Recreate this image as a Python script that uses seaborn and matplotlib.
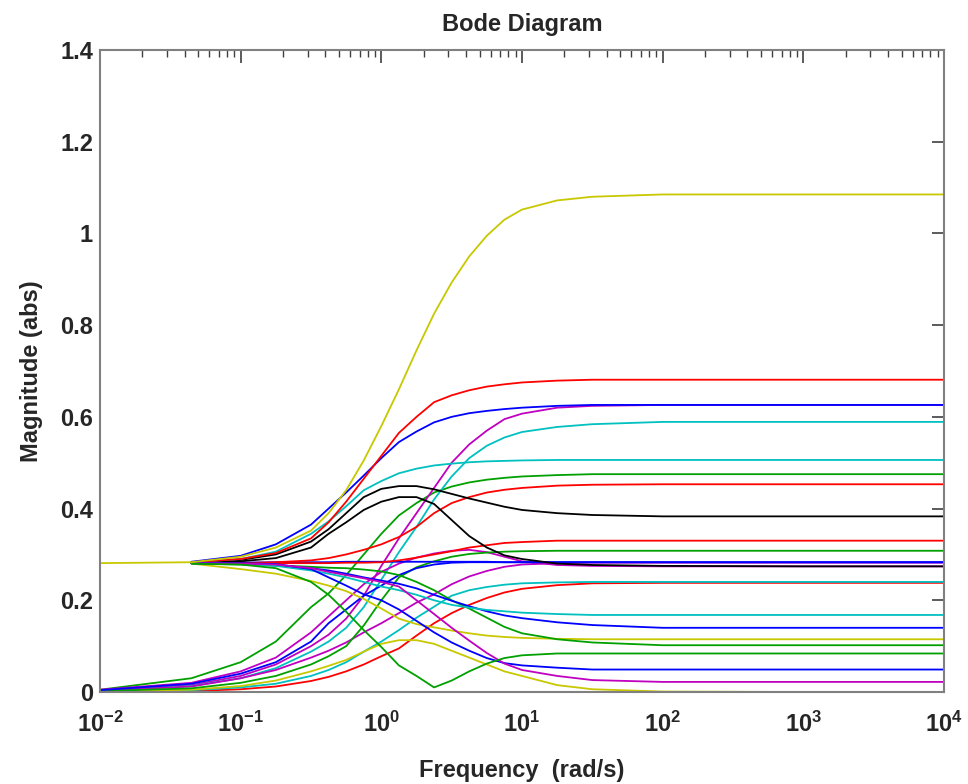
import numpy as np
import pandas as pd
import matplotlib
matplotlib.use("Agg")
import matplotlib.pyplot as plt
from matplotlib import font_manager
from matplotlib.ticker import FixedLocator, FixedFormatter, LogLocator, NullFormatter
import seaborn as sns

nan = np.nan

# frequency grid (exponent of 10, rad/s)
log_freq = [-2, -1.35, -1, -0.75, -0.5, -0.375, -0.25, -0.125, 0, 0.125, 0.25, 0.375,
            0.5, 0.625, 0.75, 0.875, 1, 1.25, 1.5, 2, 3, 4]

# curves that start at 0.28
yellow_big = [.281, .283, .295, .315, .352, .39, .44, .505, .58, .66, .745, .825, .893, .95, .995, 1.03, 1.052, 1.072, 1.08, 1.085, 1.085, 1.085]
red_a = [nan, .283, .29, .303, .335, .37, .415, .465, .515, .565, .6, .632, .647, .658, .666, .671, .675, .679, .681, .681, .681, .681]
blue_a = [nan, .284, .297, .322, .365, .4, .435, .472, .51, .545, .568, .588, .6, .608, .613, .617, .62, .624, .626, .626, .626, .626]
cyan_a = [nan, .283, .29, .306, .345, .372, .405, .44, .46, .477, .487, .494, .498, .501, .503, .504, .505, .506, .506, .506, .506, .506]
black_a = [nan, .282, .288, .3, .328, .355, .39, .425, .443, .449, .449, .442, .432, .422, .413, .404, .397, .39, .386, .383, .383, .383]
black_b = [nan, .282, .285, .292, .315, .345, .37, .397, .415, .425, .425, .41, .375, .34, .315, .298, .29, .28, .277, .275, .274, .274]
red_b = [nan, .281, .281, .283, .287, .292, .3, .31, .322, .338, .36, .39, .412, .425, .435, .441, .445, .45, .452, .453, .453, .453]
red_c = [nan, .281, .281, .281, .281, .281, .282, .282, .283, .287, .293, .3, .307, .315, .32, .325, .327, .33, .33, .33, .33, .33]
blue_flat = [nan, .282, .282, .283, .283, .283, .284, .284, .284, .284, .284, .284, .284, .284, .284, .283, .283, .283, .283, .283, .283, .283]
yellow_dn = [nan, .28, .268, .258, .242, .232, .22, .203, .182, .16, .148, .141, .134, .128, .123, .12, .118, .116, .115, .115, .115, .115]
green_dn = [nan, .28, .278, .276, .273, .271, .27, .267, .263, .255, .24, .222, .2, .182, .162, .142, .128, .115, .108, .102, .102, .102]
blue_dn = [nan, .281, .279, .276, .27, .265, .258, .25, .243, .236, .226, .212, .199, .187, .176, .167, .161, .152, .146, .14, .14, .14]
cyan_dn = [nan, .281, .279, .275, .265, .258, .25, .24, .23, .222, .212, .2, .19, .184, .179, .176, .173, .17, .168, .168, .168, .168]
blue_dn2 = [nan, .282, .281, .279, .268, .25, .232, .213, .2, .18, .155, .13, .108, .09, .074, .063, .058, .053, .049, .049, .049, .049]
magenta_dn = [nan, .281, .28, .278, .27, .262, .255, .248, .24, .23, .2, .17, .14, .112, .085, .062, .048, .035, .026, .022, .022, .022]
green_v = [nan, .28, .278, .27, .24, .212, .175, .135, .098, .058, .035, .01, .025, .045, .062, .074, .08, .084, .084, .084, .084, .084]

# curves that start near 0
green_up = [.005, .03, .065, .11, .185, .215, .255, .3, .345, .385, .412, .435, .448, .457, .463, .467, .47, .473, .475, .475, .475, .475]
magenta_up = [.003, .015, .035, .06, .1, .125, .16, .21, .275, .335, .39, .445, .5, .54, .57, .595, .607, .62, .624, .626, .626, .626]
cyan_up = [.003, .013, .03, .052, .088, .11, .14, .185, .245, .305, .36, .42, .47, .51, .537, .555, .567, .578, .584, .589, .589, .589]
red_up = [0, .002, .006, .012, .024, .033, .045, .06, .078, .095, .123, .15, .172, .19, .205, .217, .225, .233, .237, .238, .238, .238]
cyan_up2 = [.001, .004, .01, .018, .035, .048, .065, .088, .11, .135, .162, .186, .21, .222, .229, .234, .237, .239, .24, .24, .24, .24]
yellow_pk = [.001, .005, .013, .025, .045, .057, .07, .088, .105, .113, .113, .105, .09, .075, .06, .045, .035, .015, .006, .001, 0, 0]
magenta_pk = [.005, .02, .045, .075, .13, .165, .2, .235, .262, .28, .293, .302, .308, .31, .305, .295, .285, .277, .275, .274, .274, .274]
magenta_up2 = [.003, .012, .03, .048, .075, .09, .108, .13, .15, .172, .195, .213, .235, .252, .264, .273, .278, .281, .282, .282, .282, .282]
green_up2 = [.002, .008, .02, .035, .06, .078, .1, .145, .2, .25, .272, .285, .295, .301, .304, .306, .307, .308, .308, .308, .308, .308]
blue_up = [.004, .018, .04, .065, .11, .15, .18, .21, .232, .255, .27, .278, .282, .283, .283, .283, .283, .283, .283, .283, .283, .283]

C = {"b": "#0000ff", "g": "#00a000", "r": "#ff0000", "c": "#00c0c0",
     "m": "#c000c0", "y": "#c8c800", "k": "#000000"}

curves = [
    ("green_up", "g", green_up), ("magenta_up", "m", magenta_up), ("cyan_up", "c", cyan_up),
    ("red_up", "r", red_up), ("cyan_up2", "c", cyan_up2), ("yellow_pk", "y", yellow_pk),
    ("magenta_pk", "m", magenta_pk), ("magenta_up2", "m", magenta_up2),
    ("green_up2", "g", green_up2), ("blue_up", "b", blue_up),
    ("blue_flat", "b", blue_flat), ("red_c", "r", red_c), ("red_b", "r", red_b),
    ("black_b", "k", black_b), ("black_a", "k", black_a), ("cyan_a", "c", cyan_a),
    ("blue_a", "b", blue_a), ("red_a", "r", red_a),
    ("yellow_dn", "y", yellow_dn), ("green_dn", "g", green_dn), ("blue_dn", "b", blue_dn),
    ("cyan_dn", "c", cyan_dn), ("blue_dn2", "b", blue_dn2), ("magenta_dn", "m", magenta_dn),
    ("green_v", "g", green_v), ("yellow_big", "y", yellow_big),
]

freq = 10.0 ** np.array(log_freq)
rows = []
for name, col, vals in curves:
    for f, v in zip(freq, vals):
        rows.append((name, f, v))
df = pd.DataFrame(rows, columns=["curve", "freq", "mag"]).dropna()
palette = {name: C[col] for name, col, _ in curves}
order = [name for name, _, _ in curves]

sns.set_style("white")
names = {f.name for f in font_manager.fontManager.ttflist}
fam = [f for f in ["Liberation Sans Narrow", "Liberation Sans", "DejaVu Sans"] if f in names]
plt.rcParams["font.family"] = fam
plt.rcParams["mathtext.fontset"] = "custom"
plt.rcParams["mathtext.bf"] = fam[0] + ":bold"
plt.rcParams["mathtext.rm"] = fam[0] + ":bold"

fig = plt.figure(figsize=(9.68, 7.84), dpi=100)
ax = fig.add_axes([100 / 968, 1 - 692 / 784, 844 / 968, 642 / 784])
sns.lineplot(data=df, x="freq", y="mag", hue="curve", hue_order=order, palette=palette,
             estimator=None, sort=False, legend=False, linewidth=1.3, ax=ax)

ax.set_xscale("log")
ax.set_xlim(1e-2, 1e4)
ax.set_ylim(0, 1.4)

xt = [1e-2, 1e-1, 1, 1e1, 1e2, 1e3, 1e4]
xl = [r"$\mathbf{10^{-2}}$", r"$\mathbf{10^{-1}}$", r"$\mathbf{10^{0}}$", r"$\mathbf{10^{1}}$",
      r"$\mathbf{10^{2}}$", r"$\mathbf{10^{3}}$", r"$\mathbf{10^{4}}$"]
ax.xaxis.set_major_locator(FixedLocator(xt))
ax.xaxis.set_major_formatter(FixedFormatter(xl))
ax.xaxis.set_minor_locator(LogLocator(base=10, subs=np.arange(2, 10), numticks=20))
ax.xaxis.set_minor_formatter(NullFormatter())
yt = [0, 0.2, 0.4, 0.6, 0.8, 1.0, 1.2, 1.4]
ax.yaxis.set_major_locator(FixedLocator(yt))
ax.yaxis.set_major_formatter(FixedFormatter(["0", "0.2", "0.4", "0.6", "0.8", "1", "1.2", "1.4"]))

ax.tick_params(which="both", direction="in", top=True, right=True, color="#404040",
               labelsize=17)
ax.tick_params(axis="x", pad=14)
ax.tick_params(axis="y", pad=5)
ax.tick_params(which="major", length=9, width=1.2)
ax.tick_params(which="minor", length=5, width=1)
for lab in ax.get_yticklabels() + ax.get_xticklabels():
    lab.set_fontweight("bold")
for s in ax.spines.values():
    s.set_color("#808080")
    s.set_linewidth(1.5)

ax.set_title("Bode Diagram", fontsize=17, fontweight="bold", pad=14)
ax.set_xlabel("Frequency  (rad/s)", fontsize=17, fontweight="bold", labelpad=16)
ax.set_ylabel("Magnitude (abs)", fontsize=17, fontweight="bold", labelpad=12)

fig.savefig("out.png", dpi=100, facecolor="white")
